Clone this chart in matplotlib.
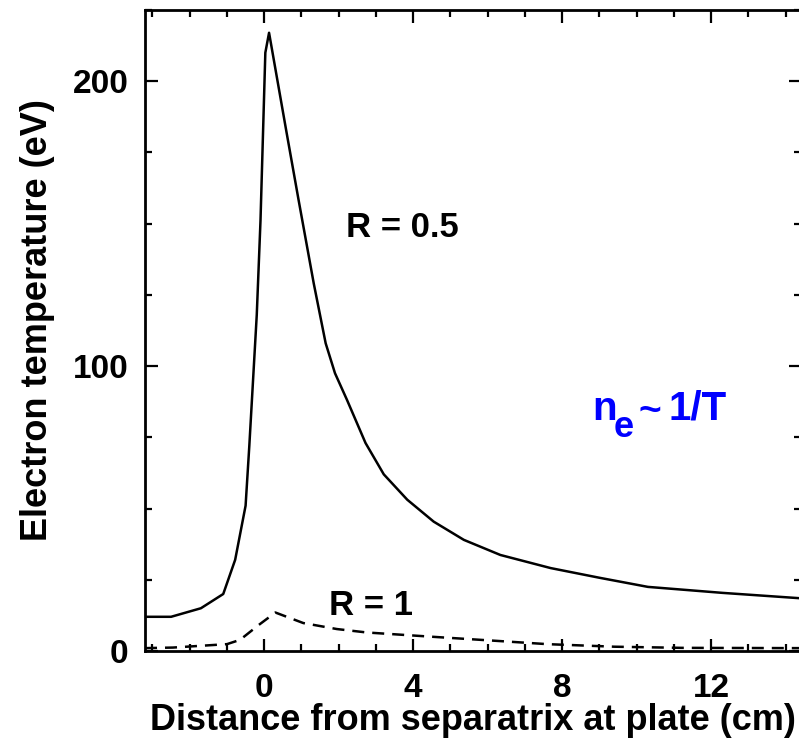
import matplotlib
matplotlib.use('Agg')
import matplotlib.pyplot as plt
from matplotlib.ticker import MultipleLocator
from matplotlib.transforms import offset_copy

plt.rcParams['font.family'] = 'Liberation Sans'
plt.rcParams['font.weight'] = 'bold'

# R = 0.5 profile (solid)
x_r05 = [-3.2, -2.5, -1.7, -1.1, -0.78, -0.5, -0.4, -0.3, -0.2, -0.1, 0.03, 0.13,
         0.6, 0.92, 1.33, 1.65, 1.9, 2.22, 2.72, 3.21, 3.84, 4.55, 5.36, 6.34, 7.69,
         9.0, 10.3, 12.3, 14.4]
te_r05 = [12, 12, 15, 20, 32, 51, 72, 95, 118, 151, 210, 217,
          182, 158.5, 129, 108, 97.5, 88.2, 73, 62, 53.1, 45.4, 39, 33.7, 29.1,
          25.7, 22.5, 20.4, 18.5]

# R = 1 profile (dashed)
x_r1 = [-3.2, -2.45, -1.0, -0.65, -0.15, 0.3, 1.05, 1.95, 2.75, 4.5, 6.3, 7.6, 9.4, 11.2, 14.4]
te_r1 = [1.0, 1.2, 2.4, 3.9, 9.1, 13.5, 9.8, 7.7, 6.5, 5.0, 3.5, 2.4, 1.5, 1.1, 1.0]

fig = plt.figure(figsize=(7.99, 7.45), dpi=100)
ax = fig.add_axes([0.1815, 0.1262, 1.002 - 0.1815, 0.9866 - 0.1262])

ax.plot(x_r05, te_r05, color='black', lw=1.8)
ax.plot(x_r1, te_r1, color='black', lw=1.8, ls=(0, (4.8, 3.2)))

ax.set_xlim(-3.2, 14.4)
ax.set_ylim(0, 225)
ax.xaxis.set_major_locator(MultipleLocator(4))
ax.xaxis.set_minor_locator(MultipleLocator(1))
ax.yaxis.set_major_locator(MultipleLocator(100))
ax.yaxis.set_minor_locator(MultipleLocator(25))
ax.tick_params(which='both', direction='in', top=True, right=True, width=1.6,
               labelsize=24)
ax.tick_params(axis='x', pad=16)
ax.tick_params(axis='y', pad=12)
ax.tick_params(which='major', length=9)
ax.tick_params(which='minor', length=5)
for s in ax.spines.values():
    s.set_linewidth(2)

ax.set_xlabel('Distance from separatrix at plate (cm)', fontsize=26, fontweight='bold', labelpad=-1)
ax.set_ylabel('Electron temperature (eV)', fontsize=26, fontweight='bold')
ax.yaxis.set_label_coords(-0.137, 0.516)

ax.text(3.71, 148.7, 'R = 0.5', fontsize=25, fontweight='bold', ha='center', va='center')
ax.text(2.88, 16.0, 'R = 1', fontsize=25, fontweight='bold', ha='center', va='center')

# n_e ~ 1/T, built from pieces so the subscript stays large
x0, y0 = 8.8, 81.2
blue_parts = [('n', 29, 0, 0), ('e', 26, 22, -17), ('~', 28, 46, -2), ('1/T', 29, 76, 0)]
for s, fs, dx, dy in blue_parts:
    ax.text(x0, y0, s, fontsize=fs, color='blue', ha='left', va='baseline',
            transform=offset_copy(ax.transData, fig=fig, x=dx, y=dy, units='dots'))

fig.savefig('out.png', dpi=100)
